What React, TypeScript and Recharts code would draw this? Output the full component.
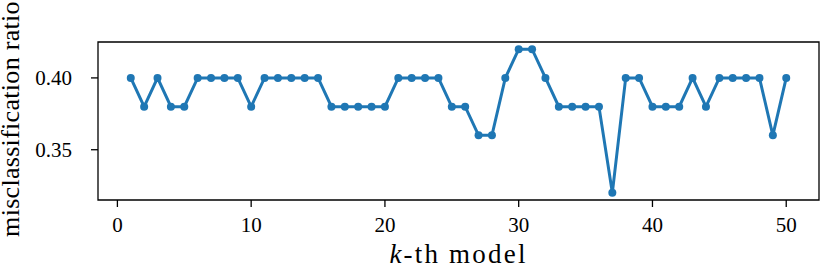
import { LineChart, Line, XAxis, YAxis, ReferenceArea } from "recharts";

const models = Array.from({ length: 50 }, (_, i) => i + 1);
const ratios = [
  0.40, 0.38, 0.40, 0.38, 0.38, 0.40, 0.40, 0.40, 0.40, 0.38,
  0.40, 0.40, 0.40, 0.40, 0.40, 0.38, 0.38, 0.38, 0.38, 0.38,
  0.40, 0.40, 0.40, 0.40, 0.38, 0.38, 0.36, 0.36, 0.40, 0.42,
  0.42, 0.40, 0.38, 0.38, 0.38, 0.38, 0.32, 0.40, 0.40, 0.38,
  0.38, 0.38, 0.40, 0.38, 0.40, 0.40, 0.40, 0.40, 0.36, 0.40,
];
const xTicks = [0, 10, 20, 30, 40, 50];
const yTicks = [0.35, 0.4];

const rows = models.map((k, i) => ({ k, ratio: ratios[i] }));

const FONT = "'Liberation Serif', 'DejaVu Serif', serif";
const X_DOMAIN: [number, number] = [-1.45, 52.45];
const Y_DOMAIN: [number, number] = [0.315, 0.425];
const tickStyle = { fill: "#000", fontSize: 21, fontFamily: FONT, style: { fontFamily: FONT } };

export default function App() {
  return (
    <div style={{ position: "absolute", left: 0, top: 0, background: "#fff", fontFamily: FONT }}>
      <LineChart width={830} height={272} data={rows} margin={{ top: 42, right: 11, bottom: 0, left: 0 }}
        style={{ fontFamily: FONT }}>
        <XAxis
          dataKey="k" type="number" domain={X_DOMAIN} ticks={xTicks} allowDataOverflow
          height={72} axisLine={false} tickSize={7} tickMargin={10}
          tickLine={{ stroke: "#000", strokeWidth: 1.3 }}
          tick={tickStyle}
          label={{
            content: () => (
              <text x={458.5} y={263} textAnchor="middle" fontSize={27} letterSpacing={2.2} fill="#000"
                style={{ fontFamily: FONT }}>
                <tspan fontStyle="italic">k</tspan>-th model
              </text>
            ),
          }}
        />
        <YAxis
          type="number" domain={Y_DOMAIN} ticks={yTicks} allowDataOverflow
          width={98} axisLine={false} tickSize={7} tickMargin={19}
          tickLine={{ stroke: "#000", strokeWidth: 1.3 }}
          tick={tickStyle}
          tickFormatter={(v: number) => v.toFixed(2)}
          label={{
            content: () => (
              <text x={18.5} y={119} transform="rotate(-90, 18.5, 119)" textAnchor="middle"
                fontSize={26} letterSpacing={0.3} fill="#000" style={{ fontFamily: FONT }}>
                misclassification ratio
              </text>
            ),
          }}
        />
        <ReferenceArea x1={X_DOMAIN[0]} x2={X_DOMAIN[1]} y1={Y_DOMAIN[0]} y2={Y_DOMAIN[1]}
          fill="none" stroke="#000" strokeWidth={1.3} ifOverflow="visible" />
        <Line
          dataKey="ratio" stroke="#1f77b4" strokeWidth={3} isAnimationActive={false}
          dot={{ r: 4, fill: "#1f77b4", stroke: "#1f77b4", strokeWidth: 0 }}
        />
      </LineChart>
    </div>
  );
}
